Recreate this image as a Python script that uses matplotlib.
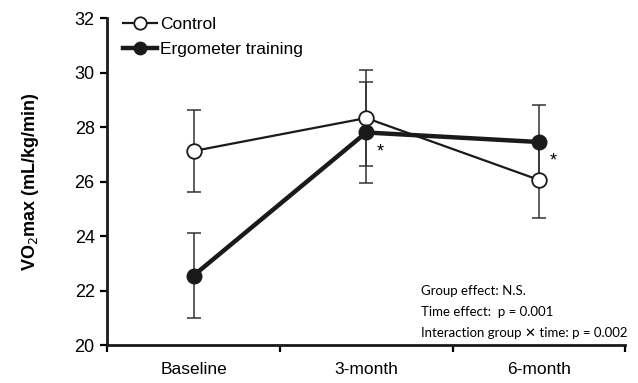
import numpy as np
import matplotlib.pyplot as plt

plt.rcParams['font.family'] = ['Liberation Sans', 'DejaVu Sans']

# Daten
zeitpunkte = ['Baseline', '3-month', '6-month']
kontrolle = [27.12, 28.33, 26.06]
kontrolle_sd = [1.5, 1.75, 1.38]
ergometer = [22.55, 27.8, 27.45]
ergometer_sd = [1.57, 1.85, 1.37]
signifikant = [False, True, True]   # Sternchen bei der Ergometer-Gruppe

x = np.arange(len(zeitpunkte)) + 0.5

fig = plt.figure(figsize=(6.38, 3.83), dpi=100)
ax = fig.add_axes([0.168, 0.099, 0.812, 0.854])

# Fehlerbalken
ax.errorbar(x, kontrolle, yerr=kontrolle_sd, fmt='none', ecolor='#333333',
            elinewidth=1.1, capsize=5, capthick=1.1, zorder=2)
ax.errorbar(x, ergometer, yerr=ergometer_sd, fmt='none', ecolor='#333333',
            elinewidth=1.1, capsize=5, capthick=1.1, zorder=2)

# Linien
ax.plot(x, kontrolle, '-o', color='#1a1a1a', lw=1.6, ms=10.5,
        mfc='white', mec='#1a1a1a', mew=1.3, label='Control', zorder=3)
ax.plot(x, ergometer, '-o', color='#1a1a1a', lw=3.2, ms=10.5,
        mfc='#1a1a1a', mec='#1a1a1a', label='Ergometer training', zorder=4)

for xi, yi, s in zip(x, ergometer, signifikant):
    if s:
        ax.text(xi + 0.06, yi - 0.7, '*', fontsize=13, ha='left', va='center')

ax.set_xlim(0, 3)
ax.set_ylim(20, 32)
ax.set_yticks(np.arange(20, 33, 2))
ax.set_xticks([0, 1, 2, 3])
ax.set_xticklabels([])
ax.set_xticks(x, minor=True)
ax.set_xticklabels(zeitpunkte, minor=True)
ax.tick_params(axis='x', which='minor', length=0, pad=12, labelsize=12.5)
ax.tick_params(axis='both', which='major', direction='out', length=5,
               width=1.6, labelsize=13)
ax.tick_params(axis='y', pad=4)

for sp in ['top', 'right']:
    ax.spines[sp].set_visible(False)
for sp in ['left', 'bottom']:
    ax.spines[sp].set_linewidth(2)
    ax.spines[sp].set_color('#1a1a1a')

ax.set_ylabel('VO$_2$max (mL/kg/min)', fontsize=13, fontweight='bold', labelpad=24)

ax.legend(loc='upper left', bbox_to_anchor=(0.03, 1.004), frameon=False,
          fontsize=12.5, handlelength=2.0, handletextpad=0.15,
          borderaxespad=0, borderpad=0, labelspacing=0.6, markerscale=0.85)

ax.text(0.605, 0.183, 'Group effect: N.S.\nTime effect:  p = 0.001\n'
        'Interaction group \u2715 time: p = 0.002',
        transform=ax.transAxes, fontsize=9.5, family=['Lato', 'DejaVu Sans'],
        linespacing=1.9, va='top', ha='left')

fig.savefig('out.png', dpi=100)
